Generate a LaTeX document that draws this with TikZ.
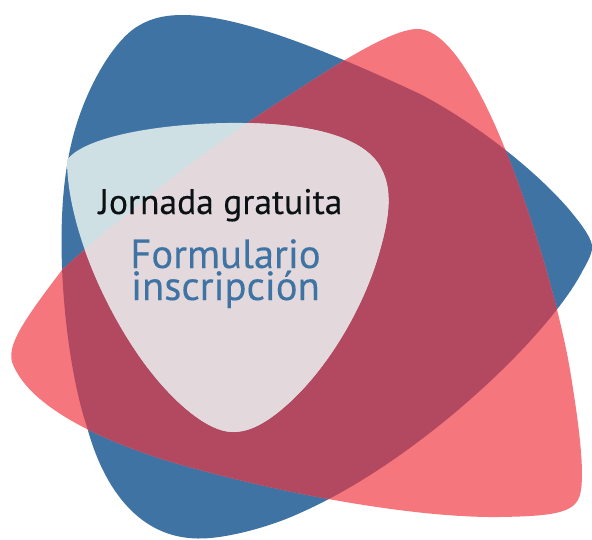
\documentclass[tikz,border=0pt]{standalone}
\usepackage{fontspec}
\setmainfont{PT Sans}
\newfontfamily\lblfont[FakeBold=0.25]{PT Sans}
\definecolor{bluez}{HTML}{3E73A3}
\definecolor{redz}{HTML}{F5767C}
\definecolor{overz}{HTML}{B34960}
\definecolor{paleblue}{HTML}{CFE0E5}
\definecolor{palered}{HTML}{E3D9DC}
\definecolor{inkz}{HTML}{0C1214}
\newcommand{\bluepath}{(183,15) .. controls (240,15) and (330,52) .. (420,94) .. controls (470,120) and (530,165) .. (567,207) .. controls (578,220) and (590,235) .. (592,245) .. controls (593,250) and (590,258) .. (583,270) .. controls (550,335) and (420,460) .. (300,513) .. controls (270,527) and (225,539) .. (198,538.5) .. controls (140,538) and (104,490) .. (87,427) .. controls (66,365) and (53,240) .. (68,160) .. controls (78,100) and (110,45) .. (135,28) .. controls (150,18) and (165,15) .. (183,15) -- cycle}
\newcommand{\redpath}{(420,29) .. controls (445,32) and (470,70) .. (495,125) .. controls (530,205) and (560,310) .. (570,370) .. controls (580,430) and (584,470) .. (581,490) .. controls (578,512) and (560,516) .. (500,517) .. controls (420,518) and (300,497) .. (200,470) .. controls (120,449) and (30,412) .. (12,362) .. controls (8,345) and (20,325) .. (62,270) .. controls (110,225) and (210,145) .. (290,95) .. controls (340,62) and (395,27) .. (420,29) -- cycle}
\newcommand{\palepath}{(67,160) .. controls (85,135) and (170,122) .. (243,123) .. controls (320,124) and (368,140) .. (382,170) .. controls (392,190) and (390,215) .. (380,250) .. controls (365,305) and (330,365) .. (290,402) .. controls (265,425) and (248,432) .. (233,432) .. controls (205,432) and (165,395) .. (135,350) .. controls (95,290) and (67,215) .. (67,160) -- cycle}
\tikzset{
  bodytext/.style={inner sep=0pt,anchor=base,font=\lblfont\fontsize{35.5}{36}\selectfont,text=inkz},
  formtext/.style={inner sep=0pt,anchor=base,font=\lblfont\fontsize{40.7}{41}\selectfont,text=bluez}
}
\begin{document}
\begin{tikzpicture}[x=1pt,y=-1pt]
\useasboundingbox (0,0) rectangle (592,539);
\fill[bluez] \bluepath;
\fill[redz] \redpath;
\begin{scope}
\clip \bluepath;
\fill[overz] \redpath;
\end{scope}
\begin{scope}
\clip \palepath;
\fill[paleblue] (0,0) rectangle (592,539);
\fill[palered] \redpath;
\end{scope}
\node[bodytext] (title) at (220.5,214) {Jornada gratuita};
\node[formtext] (form) at (225.5,268) {Formulario};
\node[formtext] (insc) at (225.5,300) {inscripción};
\end{tikzpicture}
\end{document}
